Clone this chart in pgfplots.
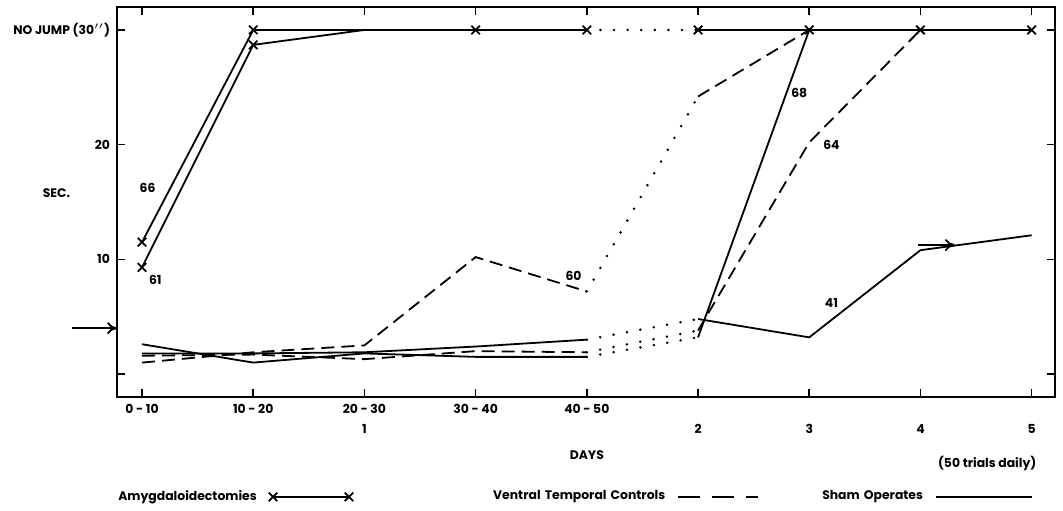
\documentclass[border=0pt]{standalone}
\usepackage{pgfplots}
\pgfplotsset{compat=1.18}
\usepackage{fontspec}
\setmainfont{Poppins}
\usetikzlibrary{arrows.meta}
\pgfplotsset{
 sol/.style={black, line width=0.9pt, forget plot, mark=none},
 dsh/.style={sol, dash pattern=on 6.5pt off 3.5pt},
 dot/.style={sol, line width=1.4pt, line cap=round, dash pattern=on 0pt off 6.8pt},
}
\newcommand{\ff}{\fontsize{6.2}{7}\selectfont\bfseries}
\begin{document}
\begin{tikzpicture}[font=\ff]
\path[use as bounding box] (-58.5pt,-56.5pt) rectangle (473pt,198.5pt);
\begin{axis}[
 at={(0,0)}, anchor=south west,
 scale only axis, width=469pt, height=195pt,
 xmin=-0.225, xmax=8.21, ymin=-2, ymax=32,
 xtick={0,...,8},
 xticklabels={{0 - 10},{10 - 20},{20 - 30\\1},{30 - 40},{40 - 50},{\phantom{0}\\2},{\phantom{0}\\3},{\phantom{0}\\4},{\phantom{0}\\5}},
 xticklabel style={align=center, font=\fontsize{6.2}{10}\selectfont\bfseries},
 yticklabel style={font=\ff},
 ytick={0,10,20,30},
 yticklabels={{},10,20,{NO JUMP (30$''$)}},
 tick align=inside, major tick length=4pt,
 tick style={line width=0.8pt, black},
 axis line style={line width=1.1pt},
 clip=false,
 legend columns=3, legend plot pos=right,
 legend style={at={(0.001,-0.256)}, anchor=west, draw=none, fill=none, inner sep=0pt, column sep=6pt, nodes={inner sep=0pt, font=\ff}},
]
% Amygdaloidectomies 66
\addplot[sol] coordinates {(0,11.5) (1,30) (2,30) (3,30) (4,30)};
\addplot[dot] coordinates {(4,30) (5,30)};
\addplot[sol] coordinates {(5,30) (6,30) (7,30) (8,30)};
% Amygdaloidectomies 61
\addplot[sol] coordinates {(0,9.3) (1,28.7) (2,30)};
\addplot[forget plot, only marks, mark=x, mark size=3pt, black, mark options={line width=0.9pt}] coordinates {(0,11.5) (0,9.3) (1,30) (1,28.7) (3,30) (4,30) (5,30) (6,30) (7,30) (8,30)};
% Amygdaloidectomy 68
\addplot[sol] coordinates {(0,2.6) (1,1.0) (2,1.8) (3,1.5) (4,1.5)};
\addplot[dot] coordinates {(4,1.5) (5,3.2)};
\addplot[sol] coordinates {(5,3.2) (6,30)};
% Ventral temporal 60
\addplot[dsh] coordinates {(0,1.0) (1,1.9) (2,2.5) (3,10.2) (4,7.2)};
\addplot[dot] coordinates {(4,7.2) (5,24.2)};
\addplot[dsh] coordinates {(5,24.2) (6,30)};
% Ventral temporal 64
\addplot[dsh] coordinates {(0,1.6) (1,1.7) (2,1.3) (3,2.0) (4,1.9)};
\addplot[dot] coordinates {(4,1.9) (5,3.8)};
\addplot[dsh] coordinates {(5,3.8) (6,20.2) (7,30)};
% Sham 41
\addplot[sol] coordinates {(0,1.8) (1,1.8) (2,1.9) (3,2.4) (4,3.0)};
\addplot[dot] coordinates {(4,3.0) (5,4.8)};
\addplot[sol] coordinates {(5,4.8) (6,3.2) (7,10.8) (8,12.1)};
\addplot[sol, -{To[length=5pt,width=6pt]}] coordinates {(6.98,11.25) (7.31,11.25)};
% left arrow
\addplot[sol, -{To[length=5pt,width=6pt]}] coordinates {(-0.63,4.0) (-0.225,4.0)};
% labels
\node at (axis cs:0.05,16.2) {66};
\node at (axis cs:0.12,8.2) {61};
\node at (axis cs:3.88,8.6) {60};
\node at (axis cs:5.91,24.5) {68};
\node at (axis cs:6.2,20.0) {64};
\node at (axis cs:6.2,6.2) {41};
\node at (axis cs:-0.77,15.8) {SEC.};
\node at (axis cs:4,-7.07) {DAYS};
\node at (axis cs:7.6,-7.77) {(50 trials daily)};
% legend
\addlegendimage{legend image code/.code={\draw[black, line width=0.9pt, mark=x, mark size=3pt] plot coordinates {(0pt,0pt) (38pt,0pt)};}}
\addlegendentry{Amygdaloidectomies}
\addlegendimage{legend image code/.code={\draw[black, line width=0.9pt, dash pattern=on 11pt off 6pt] (0pt,0pt) -- (40pt,0pt);}}
\addlegendentry[text width=150pt, align=right]{Ventral Temporal Controls}
\addlegendimage{legend image code/.code={\draw[black, line width=0.9pt] (0pt,0pt) -- (48pt,0pt);}}
\addlegendentry[text width=76pt, align=right]{Sham Operates}
\end{axis}
\end{tikzpicture}
\end{document}
